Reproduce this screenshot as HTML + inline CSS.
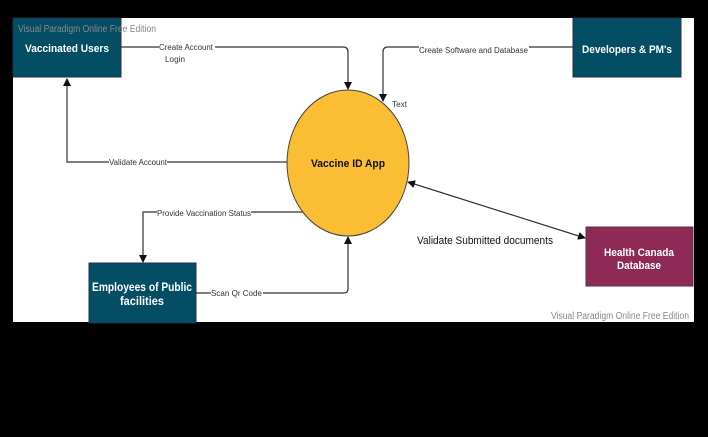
<!DOCTYPE html>
<html><head><style>
body{margin:0;background:#000;width:708px;height:432px;overflow:hidden;font-family:"Liberation Sans",sans-serif}
</style></head><body>
<svg width="708" height="432" xmlns="http://www.w3.org/2000/svg" font-family="Liberation Sans, sans-serif">
<rect x="0" y="0" width="708" height="432" fill="#000"/>
<rect x="13" y="18" width="681" height="304" fill="#fff"/>
<defs><marker id="a" markerWidth="8" markerHeight="8" refX="7" refY="4" orient="auto" markerUnits="userSpaceOnUse"><path d="M0,0 L8,4 L0,8 z" fill="#111"/></marker>
<marker id="b" markerWidth="8" markerHeight="8" refX="1" refY="4" orient="auto" markerUnits="userSpaceOnUse"><path d="M8,0 L0,4 L8,8 z" fill="#111"/></marker></defs>
<g stroke="#333" stroke-width="1.2" fill="none">
<path d="M121,47 H343 Q348,47 348,52 V89" marker-end="url(#a)"/>
<path d="M573,47 H388 Q383,47 383,52 V101" marker-end="url(#a)"/>
<path d="M288,162 H67 V79" marker-end="url(#a)"/>
<path d="M306,212 H143 V262" marker-end="url(#a)"/>
<path d="M196,293 H344 Q348,293 348,289 V237" marker-end="url(#a)"/>
<path d="M408,182 L585,238" marker-start="url(#b)" marker-end="url(#a)"/>
</g>
<rect x="13" y="18" width="108" height="59" fill="#034e65" stroke="#234"/>
<rect x="573" y="18" width="108" height="59" fill="#034e65" stroke="#234"/>
<rect x="89" y="263" width="107" height="60" fill="#034e65" stroke="#234"/>
<rect x="586" y="227" width="107" height="59" fill="#8e2a55" stroke="#534"/>
<ellipse cx="348" cy="163" rx="61" ry="73" fill="#fbbd33" stroke="#444"/>
<g fill="#fff" font-weight="bold" font-size="11" text-anchor="middle">
<text x="67" y="52" textLength="84" lengthAdjust="spacingAndGlyphs">Vaccinated Users</text>
<text x="627" y="53" textLength="90" lengthAdjust="spacingAndGlyphs">Developers &amp; PM's</text>
<text x="142" y="291" font-size="12" textLength="100" lengthAdjust="spacingAndGlyphs">Employees of Public</text>
<text x="142" y="305" font-size="12" textLength="44" lengthAdjust="spacingAndGlyphs">facilities</text>
<text x="639" y="256" textLength="70" lengthAdjust="spacingAndGlyphs">Health Canada</text>
<text x="639" y="269" textLength="44" lengthAdjust="spacingAndGlyphs">Database</text>
</g>
<text x="348" y="167" font-size="11" font-weight="bold" text-anchor="middle" fill="#111" textLength="74" lengthAdjust="spacingAndGlyphs">Vaccine ID App</text>
<text x="18" y="32" font-size="10" fill="#888" textLength="138" lengthAdjust="spacingAndGlyphs">Visual Paradigm Online Free Edition</text>
<text x="551" y="319" font-size="10" fill="#888" textLength="138" lengthAdjust="spacingAndGlyphs">Visual Paradigm Online Free Edition</text>
<g font-size="8" fill="#333">
<rect x="159" y="42" width="56" height="9" fill="#fff"/>
<text x="159" y="50" textLength="54" lengthAdjust="spacingAndGlyphs">Create Account</text>
<text x="165" y="62" textLength="20" lengthAdjust="spacingAndGlyphs">Login</text>
<rect x="419" y="42" width="110" height="9" fill="#fff"/>
<text x="419" y="53" textLength="109" lengthAdjust="spacingAndGlyphs">Create Software and Database</text>
<text x="392" y="107" textLength="15" lengthAdjust="spacingAndGlyphs">Text</text>
<rect x="109" y="157" width="58" height="9" fill="#fff"/>
<text x="109" y="165" textLength="58" lengthAdjust="spacingAndGlyphs">Validate Account</text>
<rect x="157" y="207" width="94" height="9" fill="#fff"/>
<text x="157" y="216" textLength="94" lengthAdjust="spacingAndGlyphs">Provide Vaccination Status</text>
<rect x="211" y="288" width="52" height="9" fill="#fff"/>
<text x="211" y="296" textLength="51" lengthAdjust="spacingAndGlyphs">Scan Qr Code</text>
</g>
<text x="417" y="244" font-size="11" fill="#111" textLength="136" lengthAdjust="spacingAndGlyphs">Validate Submitted documents</text>
</svg>
</body></html>
